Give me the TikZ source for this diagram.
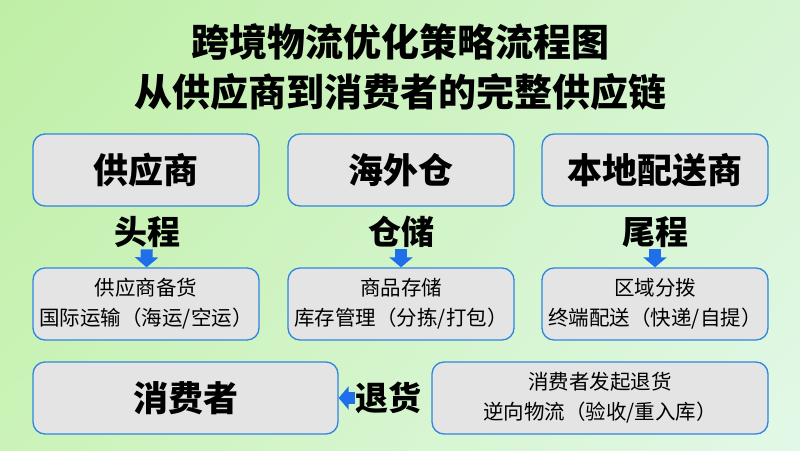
\documentclass[tikz,border=0pt]{standalone}
\usepackage{fontspec}
\setmainfont{Noto Sans CJK SC}
\usetikzlibrary{arrows.meta,shadings}
\definecolor{bgtl}{HTML}{BFEFA6}
\definecolor{bgtr}{HTML}{D6F5D2}
\definecolor{bgbl}{HTML}{CBF3B8}
\definecolor{bgbr}{HTML}{E2F8E8}
\definecolor{boxfill}{HTML}{E4E4E4}
\definecolor{boxline}{HTML}{2F86DE}
\definecolor{arrblue}{HTML}{1F6FEB}
\begin{document}
\begin{tikzpicture}[x=1pt,y=-1pt,line cap=round,line join=round,
  stage/.style={draw=boxline,fill=boxfill,line width=1.3pt,rounded corners=12pt,
    minimum width=226pt,minimum height=72pt,font=\fontsize{35}{40}\selectfont\bfseries},
  detail/.style={draw=boxline,fill=boxfill,line width=1.3pt,rounded corners=12pt,
    minimum width=226pt,minimum height=72pt,align=center,font=\fontsize{20.5}{30}\selectfont},
  tag/.style={inner sep=1.5pt,font=\fontsize{33}{36}\selectfont\bfseries},
  flow/.style={arrblue,line width=12pt,line cap=butt,-{Triangle[width=23pt,length=10pt]}}]
\shade[upper left=bgtl,upper right=bgtr,lower left=bgbl,lower right=bgbr] (0,0) rectangle (800,450);
\node[align=center,font=\fontsize{38}{50}\selectfont\bfseries] (title) at (400,67) {跨境物流优化策略流程图\\从供应商到消费者的完整供应链};
% first row
\node[stage] (sup) at (146,170) {供应商};
\node[stage] (wh) at (401,170) {海外仓};
\node[stage] (loc) at (655,170) {本地配送商};
% labels
\node[tag] (first) at (147,232) {头程};
\node[tag] (store) at (401,232) {仓储};
\node[tag] (last) at (655,232) {尾程};
% second row
\node[detail] (supd) at (146,304) {供应商备货\\国际运输（海运/空运）};
\node[detail] (whd) at (401,304) {商品存储\\库存管理（分拣/打包）};
\node[detail] (locd) at (655,304) {区域分拨\\终端配送（快递/自提）};
% return row
\node[stage,minimum width=305pt] (cons) at (185.5,398) {消费者};
\node[tag,inner sep=0pt] (ret) at (388,398) {退货};
\node[detail,minimum width=336pt] (retd) at (600,398) {消费者发起退货\\逆向物流（验收/重入库）};
\draw[flow] (first) -- (supd);
\draw[flow] (store) -- (whd);
\draw[flow] (last) -- (locd);
\draw[flow] (ret) -- (cons);
\end{tikzpicture}
\end{document}
